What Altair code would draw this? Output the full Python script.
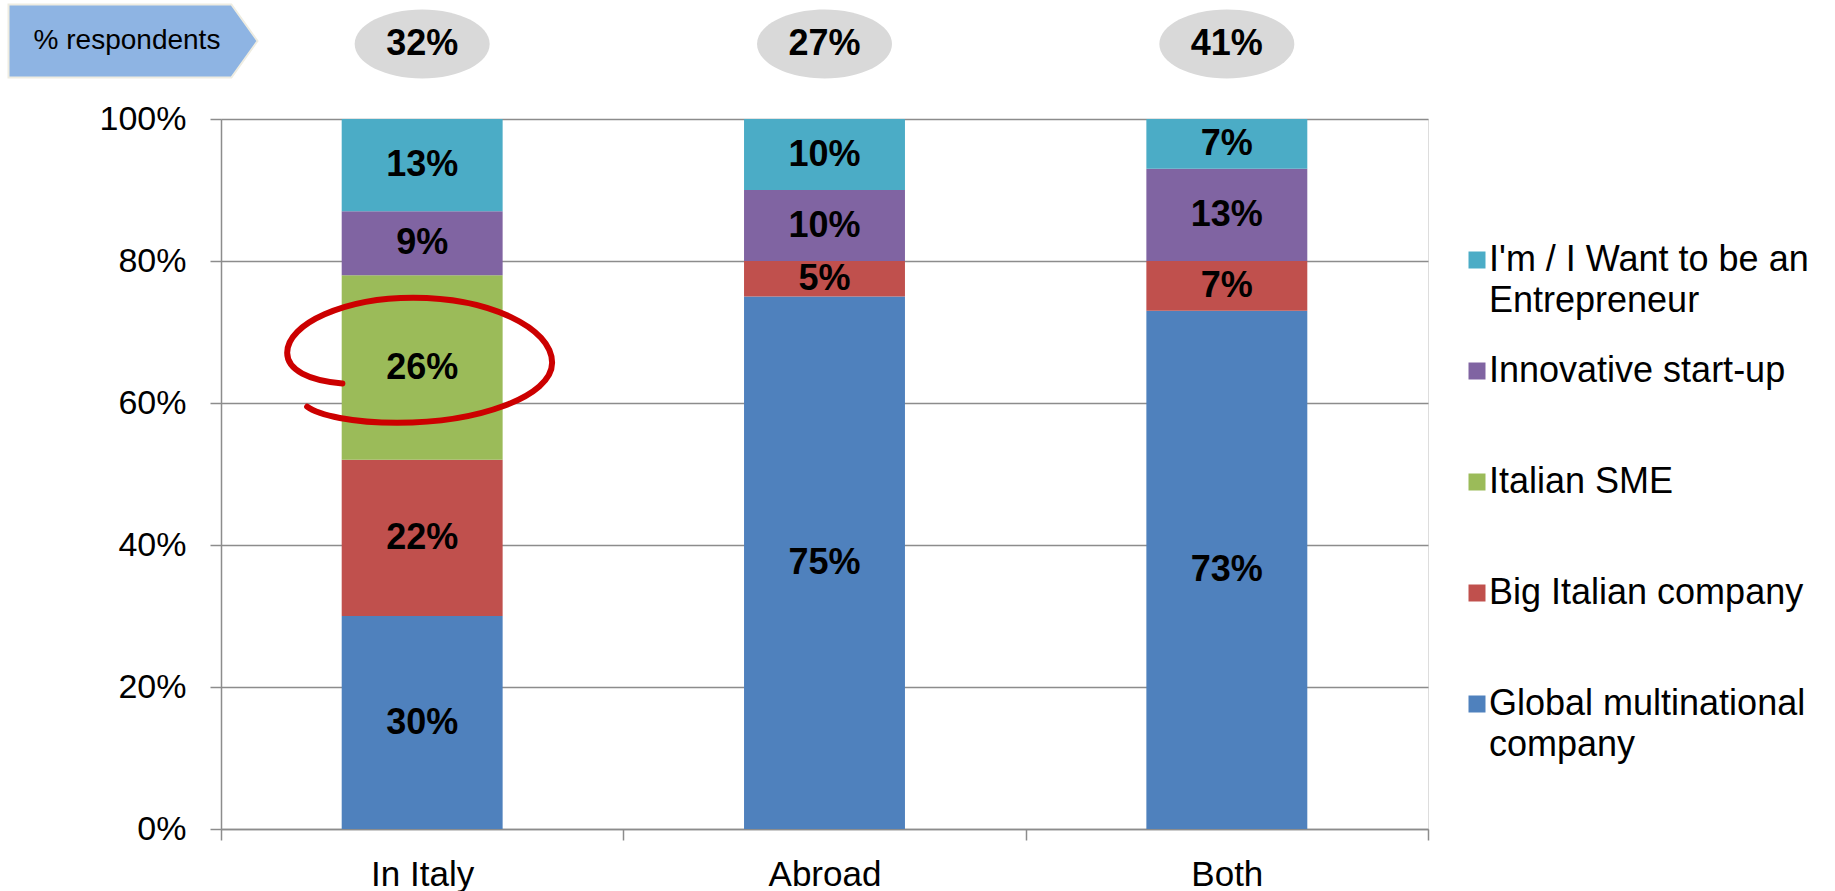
import altair as alt
import pandas as pd

# ---------------- data ----------------
categories = ["In Italy", "Abroad", "Both"]
# series listed bottom -> top of the stack ("|" marks a line break in the legend)
series = [
    "Global multinational|company",
    "Big Italian company",
    "Italian SME",
    "Innovative start-up",
    "I'm / I Want to be an|Entrepreneur",
]
global_mnc = [30, 75, 73]
big_italian = [22, 5, 7]
italian_sme = [26, 0, 0]
innovative = [9, 10, 13]
entrepreneur = [13, 10, 7]
respondent_share = [32, 27, 41]
series_colors = ["#4F81BD", "#C0504D", "#9BBB59", "#8064A2", "#4BACC6"]
highlight_category = "In Italy"
highlight_series = "Italian SME"
badge_text = "% respondents"

values_by_series = [global_mnc, big_italian, italian_sme, innovative, entrepreneur]
rows = []
for rank, (s, vals) in enumerate(zip(series, values_by_series)):
    for c, v in zip(categories, vals):
        rows.append({
            "category": c,
            "series": s,
            "value": v,
            "rank": rank,
            "highlight": (c == highlight_category and s == highlight_series),
        })
df = pd.DataFrame(rows)
top_df = pd.DataFrame({"category": categories, "share": respondent_share})
badge_df = pd.DataFrame({"text": [badge_text]})

FONT = "Liberation Sans, Arial, sans-serif"
GRID = "#8c8c8c"

legend_domain = list(reversed(series))
legend_range = list(reversed(series_colors))

x_enc = alt.X(
    "category:N",
    sort=categories,
    scale=alt.Scale(paddingInner=0, paddingOuter=0),
    axis=alt.Axis(
        title=None,
        tickBand="extent",
        tickSize=11,
        tickColor=GRID,
        tickWidth=1.5,
        domainColor=GRID,
        domainWidth=1.5,
        labelFontSize=35,
        labelFont=FONT,
        labelColor="black",
        labelPadding=17,
        labelAngle=0,
        grid=False,
    ),
)

base = (
    alt.Chart(df)
    .transform_stack(
        stack="value",
        groupby=["category"],
        as_=["v0", "v1"],
        sort=[alt.SortField("rank", order="ascending")],
    )
    .transform_calculate(mid="(datum.v0 + datum.v1) / 2", label="datum.value + '%'")
)

bars = base.mark_bar(width=alt.RelativeBandSize(0.4)).encode(
    x=x_enc,
    y=alt.Y(
        "v0:Q",
        scale=alt.Scale(domain=[0, 100], nice=False),
        axis=alt.Axis(
            title=None,
            values=[0, 20, 40, 60, 80, 100],
            labelExpr="datum.value + '%'",
            grid=True,
            gridColor=GRID,
            gridWidth=1.5,
            domainColor=GRID,
            domainWidth=1.5,
            tickColor=GRID,
            tickWidth=1.5,
            tickSize=11,
            labelFontSize=34,
            labelFont=FONT,
            labelColor="black",
            labelPadding=24,
        ),
    ),
    y2="v1:Q",
    color=alt.Color(
        "series:N",
        scale=alt.Scale(domain=legend_domain, range=legend_range),
        legend=alt.Legend(
            title=None,
            orient="none",
            legendX=1238,
            legendY=123,
            padding=0,
            symbolType="square",
            symbolSize=289,
            symbolStrokeWidth=0,
            symbolOpacity=1,
            labelFontSize=36,
            labelFont=FONT,
            labelColor="black",
            labelLimit=500,
            labelOffset={"expr": "-6"},
            labelExpr="split(datum.label, '|')",
            gridAlign="all",
            rowPadding=34,
        ),
    ),
)

labels = base.transform_filter("datum.value > 0").mark_text(
    font=FONT, fontSize=36, fontWeight="bold", color="black"
).encode(x=alt.X("category:N", sort=categories), y=alt.Y("mid:Q"), text="label:N")

ELLIPSE = (
    "M -0.60 0.12 C -0.85 0.10 -1.015 0.02 -1.015 -0.11 "
    "C -1.015 -0.33 -0.58 -0.524 -0.068 -0.524 "
    "C 0.50 -0.524 0.977 -0.30 0.977 -0.035 "
    "C 0.977 0.22 0.42 0.416 -0.188 0.416 "
    "C -0.52 0.416 -0.78 0.36 -0.865 0.295"
)
ring = base.transform_filter("datum.highlight").mark_point(
    shape=ELLIPSE, size=70756, filled=False, color="#CC0000",
    strokeWidth=6, opacity=1, strokeCap="round",
).encode(x=alt.X("category:N", sort=categories), y=alt.Y("mid:Q"))

OVAL = (
    "M -1 0 C -1 -0.282 -0.552 -0.511 0 -0.511 "
    "C 0.552 -0.511 1 -0.282 1 0 "
    "C 1 0.282 0.552 0.511 0 0.511 "
    "C -0.552 0.511 -1 0.282 -1 0 Z"
)
ovals = alt.Chart(top_df).mark_point(
    shape=OVAL, size=18225, filled=True, color="#D9D9D9", opacity=1, strokeWidth=0
).encode(x=alt.X("category:N", sort=categories), y=alt.value(-75))

oval_text = alt.Chart(top_df).transform_calculate(
    lab="datum.share + '%'"
).mark_text(font=FONT, fontSize=36, fontWeight="bold", color="black").encode(
    x=alt.X("category:N", sort=categories), y=alt.value(-75), text="lab:N"
)

PENTAGON = "M -1 -0.293 L 0.79 -0.293 L 1 0 L 0.79 0.293 L -1 0.293 Z"
badge = alt.Chart(badge_df).mark_point(
    shape=PENTAGON, size=62001, filled=True, fill="#8EB4E3", stroke="#EEECE1",
    strokeWidth=2, opacity=1,
).encode(x=alt.value(-88), y=alt.value(-78))

badge_text_mark = alt.Chart(badge_df).mark_text(
    font=FONT, fontSize=28, color="black"
).encode(x=alt.value(-94), y=alt.value(-78), text="text:N")

chart = (
    alt.layer(bars, ring, labels, ovals, oval_text, badge, badge_text_mark)
    .properties(
        width=1207,
        height=710,
        padding={"left": 221, "top": 119, "right": 407, "bottom": 62},
        autosize=alt.AutoSizeParams(type="none"),
        background="white",
    )
    .configure_view(strokeWidth=0)
    .configure(style={"guide-label": {"lineHeight": 41}})
)

chart.save("out.html", embed_options={"renderer": "svg", "actions": False})
